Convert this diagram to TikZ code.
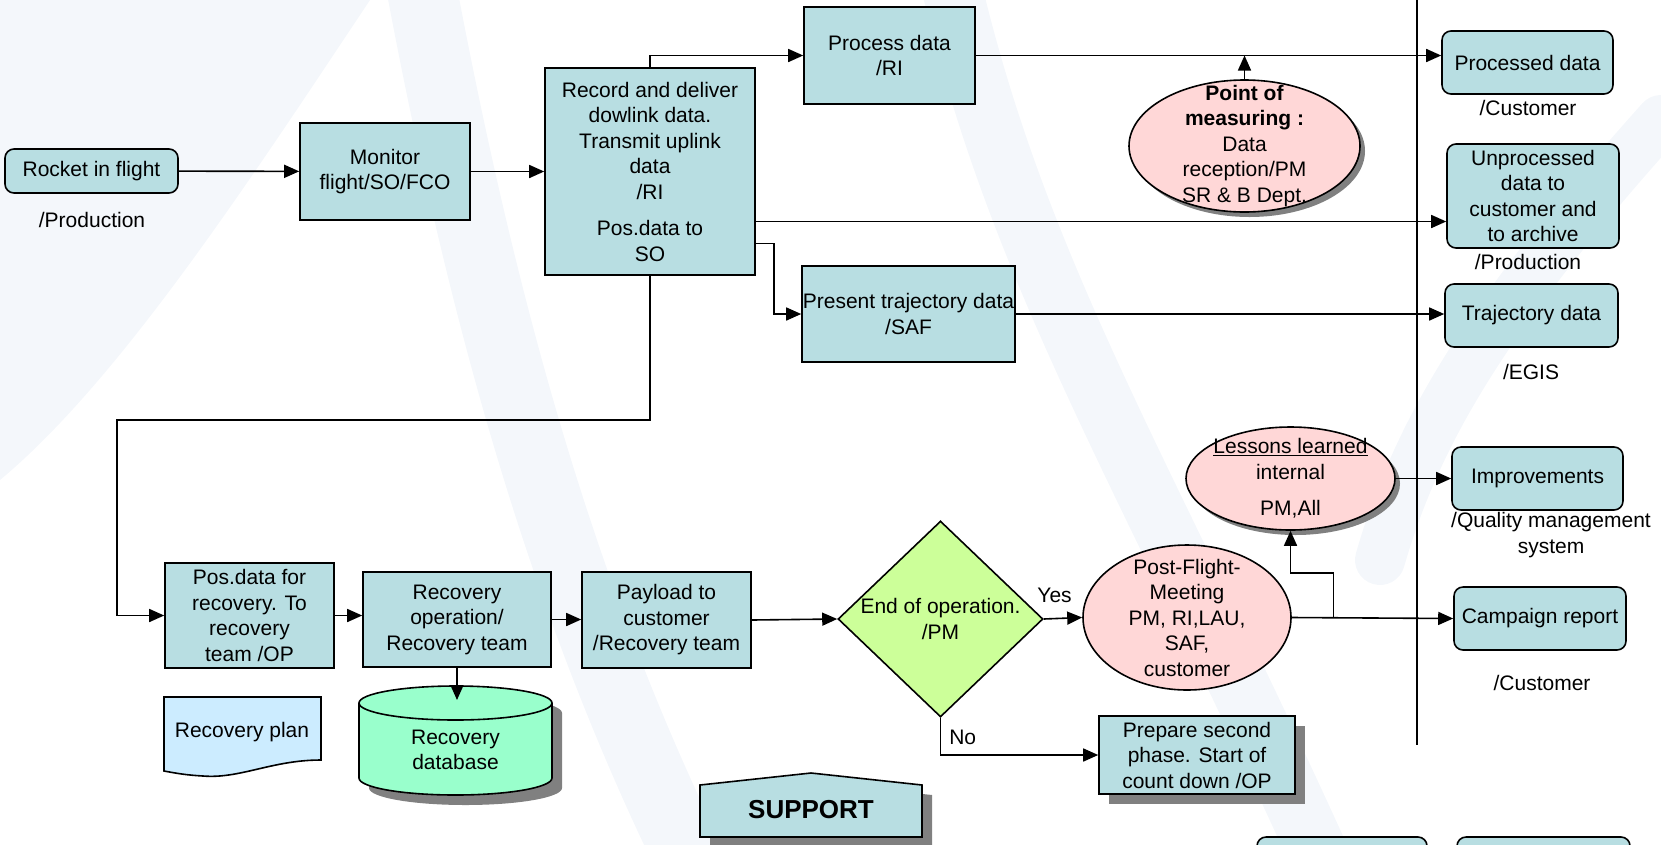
\documentclass[tikz,border=0pt]{standalone}
\usepackage{fontspec}
\setmainfont{Liberation Sans}
\usetikzlibrary{shapes.geometric, arrows.meta, positioning, shadows, calc}
\definecolor{boxteal}{RGB}{184,222,226}
\definecolor{bubblepink}{RGB}{255,215,215}
\definecolor{choicegreen}{RGB}{204,255,153}
\definecolor{dbgreen}{RGB}{153,255,204}
\definecolor{planblue}{RGB}{204,236,255}
\definecolor{shadowgray}{RGB}{128,128,128}
\definecolor{bgpale}{RGB}{244,247,251}

\begin{document}
\begin{tikzpicture}[
    x=1pt, y=-1pt,
    every node/.style={font=\fontsize{21}{25.5}\selectfont, align=center, inner sep=0pt},
    panel/.style={draw=black, line width=1.6pt, fill=boxteal},
    process/.style={panel, rectangle},
    result/.style={process, rounded corners=9pt},
    bubble/.style={ellipse, draw=black, line width=1.6pt, fill=bubblepink},
    decision/.style={diamond, draw=black, line width=1.6pt, fill=choicegreen},
    grayshadow/.style={general shadow={fill=shadowgray, shadow xshift=#1, shadow yshift=-#1}},
    grayshadow/.default=9pt,
    arrow/.style={-{Triangle[length=15pt, width=13pt]}, line width=1.6pt},
    divider/.style={line width=1.6pt},
    swoosh/.style={draw=bgpale, line width=#1, line cap=round}
]
\useasboundingbox (0,0) rectangle (1661,844);
\clip (0,0) rectangle (1661,844);

% faint background swooshes
\fill[bgpale] (0,0) -- (370,0) .. controls (250,180) and (120,380) .. (0,480) -- cycle;
\draw[swoosh=70pt] (420,-20) .. controls (480,300) and (560,600) .. (700,880);
\draw[swoosh=60pt] (950,-20) .. controls (1020,280) and (1150,480) .. (1330,880);
\draw[swoosh=50pt] (1661,120) .. controls (1500,300) and (1420,420) .. (1380,560);

% flight and data handling
\node (rocket) [result, minimum width=173pt, minimum height=44pt] at (91.5,171) {Rocket in flight};
\node (rocketowner) at (92,220) {/Production};
\node (monitor) [process, minimum width=170pt, minimum height=97pt] at (385,171.5) {Monitor\\flight/SO/FCO};
\node (record) [process, minimum width=210pt, minimum height=207pt] at (650,171.5)
    {Record and deliver\\dowlink data.\\Transmit uplink\\data\\/RI\\[11pt]Pos.data to\\SO};
\node (process) [process, minimum width=171pt, minimum height=97pt] at (889.5,55.5) {Process data\\/RI};
\node (present) [process, minimum width=213pt, minimum height=96pt] at (908.5,314) {Present trajectory data\\/SAF};
\node (measure) [bubble, grayshadow=5pt, minimum width=231pt, minimum height=132pt,
    label={center:\textbf{Point of}\\\textbf{measuring :}\\Data\\reception/PM\\SR \& B Dept.}] at (1244.5,146) {};

% customer side
\draw[divider] (1417,0) -- (1417,745);
\node (processed) [result, minimum width=171pt, minimum height=63pt] at (1527.5,62.5) {Processed data};
\node (processedowner) at (1528,108) {/Customer};
\node (unproc) [result, minimum width=172pt, minimum height=104pt] at (1533,196) {Unprocessed\\data to\\customer and\\to archive};
\node (unprocowner) at (1528,262) {/Production};
\node (trajdata) [result, minimum width=173pt, minimum height=63pt] at (1531.5,315.5) {Trajectory data};
\node (trajowner) at (1531,372) {/EGIS};
\node (improve) [result, minimum width=171pt, minimum height=63pt] at (1537.5,478.5) {Improvements};
\node (improveowner) at (1551,535) {/Quality management\\system};
\node (campaign) [result, minimum width=172pt, minimum height=63pt] at (1540,618.5) {Campaign report};
\node (campaignowner) at (1542,683) {/Customer};
\node (botleft) [result, minimum width=170pt, minimum height=66pt] at (1342,870) {};
\node (botright) [result, minimum width=173pt, minimum height=66pt] at (1543.5,870) {};

% recovery chain
\node (posrec) [process, minimum width=169pt, minimum height=105pt] at (249.5,615.5) {Pos.data for\\recovery. To\\recovery\\team /OP};
\node (recop) [process, minimum width=188pt, minimum height=95pt] at (457,619.5) {Recovery\\operation/\\Recovery team};
\node (payload) [process, minimum width=169pt, minimum height=96pt] at (666.5,620) {Payload to\\customer\\/Recovery team};
\node (endop) [decision, minimum width=205pt, minimum height=196pt,
    label={center:End of operation.\\/PM}] at (940.5,619) {};
\node (post) [bubble, minimum width=208pt, minimum height=145pt,
    label={center:Post-Flight-\\Meeting\\PM, RI,LAU,\\SAF,\\customer}] at (1187,617.5) {};
\node (lessons) [bubble, grayshadow=5pt, minimum width=209pt, minimum height=103pt,
    label={center:\underline{Lessons learned}\\internal\\[11pt]PM,All}] at (1290.5,478.5) {};
\node (prepare) [process, grayshadow=10pt, minimum width=196pt, minimum height=78pt] at (1197,755) {Prepare second\\phase. Start of\\count down /OP};

% documents, database and support
\draw[draw=black, line width=1.6pt, fill=planblue] (164,697) -- (321,697) -- (321,760)
    .. controls (272,760) and (240,779) .. (203,776) .. controls (185,775) and (175,773) .. (164,771) -- cycle;
\node (recplan) at (242,732) {Recovery plan};
\filldraw[draw=black, line width=1.6pt, fill=dbgreen, grayshadow=10pt] (359,703) -- (359,778)
    arc[start angle=180, end angle=360, x radius=96.5pt, y radius=17pt] -- (552,703)
    arc[start angle=0, end angle=180, x radius=96.5pt, y radius=17pt] -- cycle;
\draw[line width=1.6pt] (359,703) arc[start angle=180, end angle=360, x radius=96.5pt, y radius=17pt];
\coordinate (dbtop) at (457,700);
\node (recdb) at (455.5,750) {Recovery\\database};
\draw[panel, grayshadow=10pt] (700,837) -- (700,785) -- (811,773) -- (922,785) -- (922,837) -- cycle;
\node (support) at (811,810) {\fontsize{26}{30}\selectfont\bfseries SUPPORT};

% connectors
\draw[arrow] (rocket) -- (monitor);
\draw[arrow] (monitor) -- (monitor -| record.west);
\draw[arrow] (record.north) |- (process.west);
\draw[arrow] (process.east) -- (process.east -| processed.west);
\draw[arrow] (measure.north) -- (measure.north |- process.east);
\draw[arrow] ([yshift=-50pt]record.east) coordinate (r1) -- (r1 -| unproc.west);
\draw[arrow] ([yshift=-72pt]record.east) -- ++(18,0) |- (present.west);
\draw[arrow] (present.east) -- (present.east -| trajdata.west);
\draw[arrow] (record.south) |- ++(-533,144) |- (posrec.west);
\draw[arrow] (posrec.east) -- (posrec.east -| recop.west);
\draw[arrow] (recop.east) -- (recop.east -| payload.west);
\draw[arrow] (recop.south) -- (dbtop);
\draw[arrow] (payload.east) -- (endop.west);
\draw[arrow] (endop.east) -- node[above=15pt, pos=0.28] {Yes} (post.west);
\draw[arrow] (endop.south) |- node[pos=0.26, right=8pt] {No} (prepare.west);
\draw[arrow] (post.east) -- (campaign.west);
\coordinate (br) at ($(post.east)!0.258!(campaign.west)$);
\draw[arrow] (br) -- ++(0,-45) -| (lessons.south);
\draw[arrow] (lessons.east) -- (improve.west);

\end{tikzpicture}
\end{document}
